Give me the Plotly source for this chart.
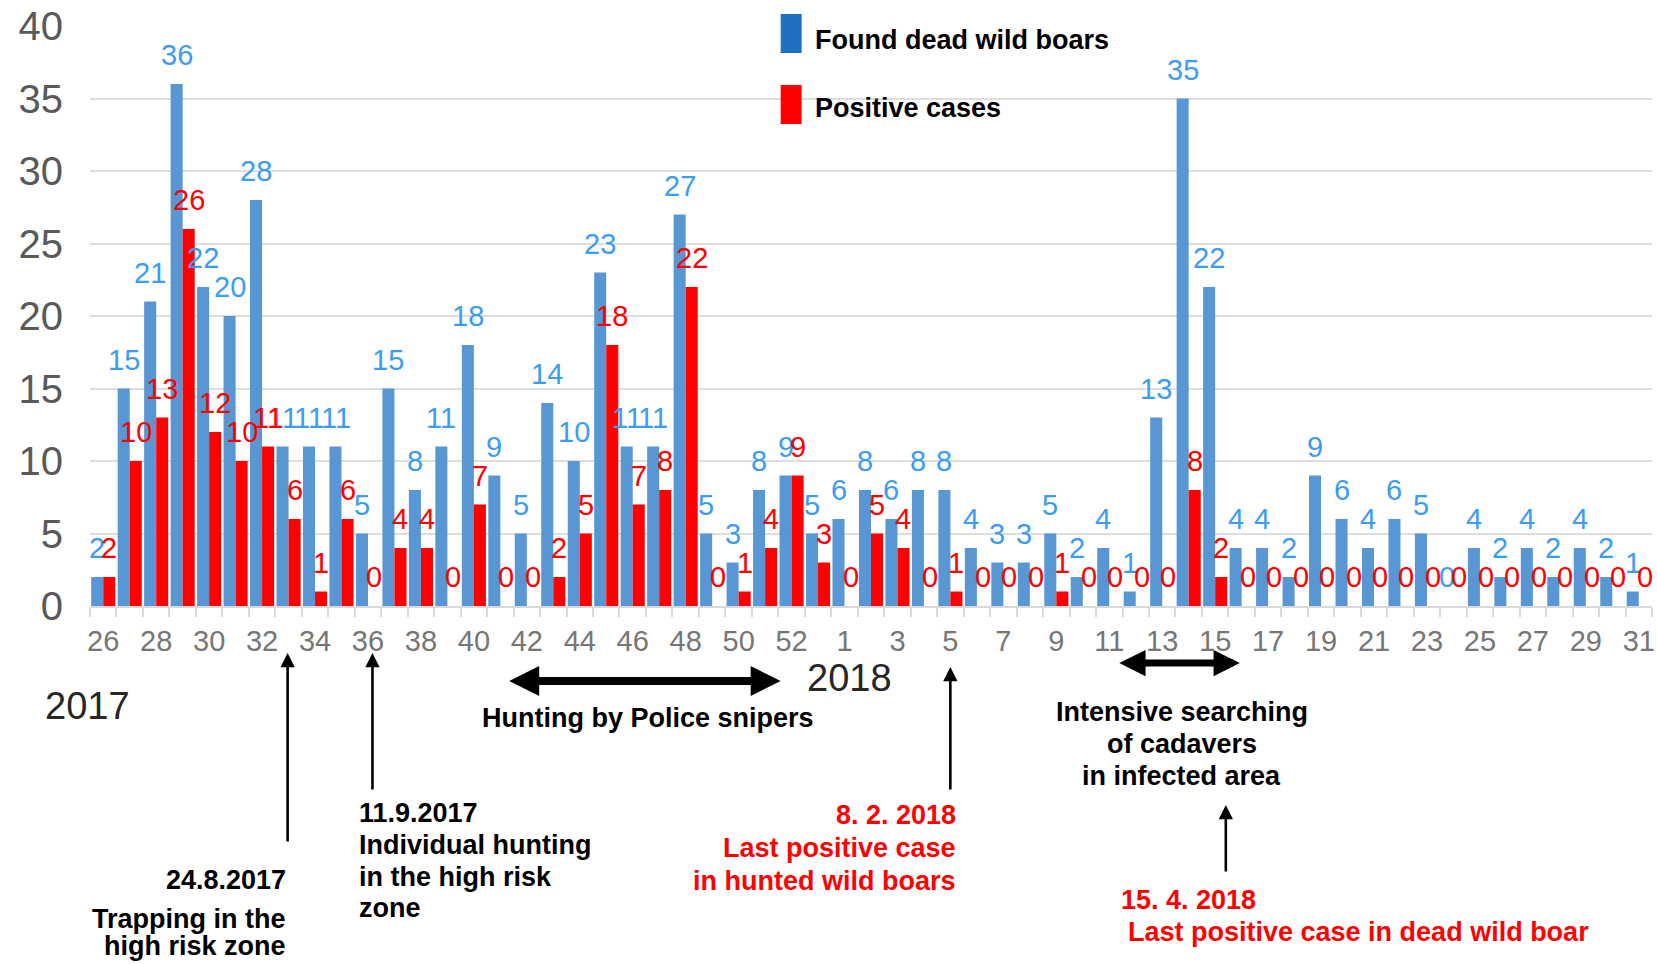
import plotly.graph_objects as go

# ---------------- data ----------------
weeks_2017 = list(range(26, 54))
weeks_2018 = list(range(1, 32))
found_2017 = [2, 15, 21, 36, 22, 20, 28, 11, 11, 11, 5, 15, 8, 11, 18, 9, 5, 14, 10, 23,
              11, 11, 27, 5, 3, 8, 9, 5]
positive_2017 = [2, 10, 13, 26, 12, 10, 11, 6, 1, 6, 0, 4, 4, 0, 7, 0, 0, 2, 5, 18,
                 7, 8, 22, 0, 1, 4, 9, 3]
found_2018 = [6, 8, 6, 8, 8, 4, 3, 3, 5, 2, 4, 1, 13, 35, 22, 4, 4, 2, 9, 6, 4, 6, 5, 0,
              4, 2, 4, 2, 4, 2, 1]
positive_2018 = [0, 5, 4, 0, 1, 0, 0, 0, 1, 0, 0, 0, 0, 8, 2, 0, 0, 0, 0, 0, 0, 0, 0, 0,
                 0, 0, 0, 0, 0, 0, 0]
series_names = ["Found dead wild boars", "Positive cases"]
y_ticks = [0, 5, 10, 15, 20, 25, 30, 35, 40]

categories = [f"2017/{w}" for w in weeks_2017] + [f"2018/{w}" for w in weeks_2018]
week_numbers = weeks_2017 + weeks_2018
found = found_2017 + found_2018
positive = positive_2017 + positive_2018
tick_text = [str(w) if i % 2 == 0 else "" for i, w in enumerate(week_numbers)]

# ---------------- style ----------------
W, H = 1657, 964
L, R, T, B = 90, 2, 26, 358
PW, PH = W - L - R, H - T - B
BLUE = "#5896d4"
RED = "#ff0000"
BLUE_TXT = "#3c9cf2"
FONT = "Liberation Sans, Arial, sans-serif"
BOLD_SIZE = 27


def px(x):
    return (x - L) / PW


def py(y):
    return (H - B - y) / PH


fig = go.Figure()
fig.add_trace(go.Bar(x=categories, y=found, name=series_names[0], marker_color=BLUE,
                     marker_line_width=0))
fig.add_trace(go.Bar(x=categories, y=positive, name=series_names[1], marker_color=RED,
                     marker_line_width=0))

annotations = []
# data labels
for c, v in zip(categories, found):
    annotations.append(dict(x=c, y=v, xref="x", yref="y", text=str(v), showarrow=False,
                            xshift=-6, yshift=11, yanchor="bottom", xanchor="center",
                            font=dict(family=FONT, size=29, color=BLUE_TXT)))
for c, v in zip(categories, positive):
    annotations.append(dict(x=c, y=v, xref="x", yref="y", text=str(v), showarrow=False,
                            xshift=6, yshift=11, yanchor="bottom", xanchor="center",
                            font=dict(family=FONT, size=29, color=RED)))


def txt(text, x, y, anchor="left", size=BOLD_SIZE, color="#000000", bold=True):
    annotations.append(dict(x=px(x), y=py(y), xref="paper", yref="paper", text=text,
                            showarrow=False, xanchor=anchor, yanchor="middle",
                            font=dict(family=FONT, size=size, color=color,
                                      weight="bold" if bold else "normal")))


def up_arrow(x, y_tip, y_tail):
    annotations.append(dict(x=px(x), y=py(y_tip), xref="paper", yref="paper", text="",
                            showarrow=True, ax=0, ay=y_tail - y_tip, arrowhead=2,
                            arrowsize=1.1, arrowwidth=2.6, arrowcolor="#000000"))


def double_arrow(x0, x1, y, width=8, size=0.75):
    annotations.append(dict(x=px(x1), y=py(y), xref="paper", yref="paper", text="",
                            showarrow=True, ax=x0 - x1, ay=0, arrowhead=2,
                            startarrowhead=2, arrowside="end+start", arrowsize=size,
                            startarrowsize=size, arrowwidth=width, arrowcolor="#000000"))


# legend (drawn manually)
txt(series_names[0], 814, 40)
txt(series_names[1], 814, 108)

# year labels
txt("2017", 87, 706, anchor="center", size=38, color="#262626", bold=False)
txt("2018", 851, 678, anchor="center", size=38, color="#262626", bold=False)

# arrows
double_arrow(509, 782, 681)
txt("Hunting by Police snipers", 649, 718, anchor="center")
double_arrow(1120, 1242, 663, width=7, size=0.75)
txt("Intensive searching", 1184, 712, anchor="center")
txt("of cadavers", 1184, 744, anchor="center")
txt("in infected area", 1184, 776, anchor="center")

up_arrow(288, 653, 843)
txt("24.8.2017", 288, 880, anchor="right")
txt("Trapping in the", 288, 919, anchor="right")
txt("high risk zone", 288, 946, anchor="right")

up_arrow(373, 653, 791)
txt("11.9.2017", 358, 813)
txt("Individual hunting", 358, 845)
txt("in the high risk", 358, 877)
txt("zone", 358, 908)

up_arrow(952, 667, 791)
txt("8. 2. 2018", 960, 815, anchor="right", color=RED)
txt("Last positive case", 960, 848, anchor="right", color=RED)
txt("in hunted wild boars", 960, 881, anchor="right", color=RED)

up_arrow(1228, 805, 873)
txt("15. 4. 2018", 1121, 900, color=RED)
txt("Last positive case in dead wild boar", 1128, 932, color=RED)

shapes = [
    dict(type="rect", xref="paper", yref="paper", x0=px(782), x1=px(803),
         y0=py(53), y1=py(14), fillcolor="#1f6fc5", line_width=0),
    dict(type="rect", xref="paper", yref="paper", x0=px(782), x1=px(803),
         y0=py(124), y1=py(85), fillcolor=RED, line_width=0),
]

fig.update_layout(
    width=W, height=H,
    margin=dict(l=L, r=R, t=T, b=B, pad=0),
    paper_bgcolor="white", plot_bgcolor="white",
    barmode="group", bargap=0.09, bargroupgap=0,
    showlegend=False,
    font=dict(family=FONT),
    annotations=annotations,
    shapes=shapes,
)
fig.update_xaxes(
    type="category", categoryorder="array", categoryarray=categories,
    tickmode="array", tickvals=categories, ticktext=tick_text, tickangle=0,
    tickson="boundaries", ticks="outside", ticklen=9, tickcolor="#d9d9d9", tickwidth=1.5,
    showline=True, linecolor="#d9d9d9", linewidth=1.5, showgrid=False,
    tickfont=dict(family=FONT, size=29, color="#767676"), ticklabelstandoff=8,
    range=[-0.5, len(categories) - 0.5],
)
fig.update_yaxes(
    range=[0, 40], tickvals=y_ticks, showgrid=True, gridcolor="#dedede", gridwidth=1.5,
    zeroline=False, showline=False, ticks="",
    tickfont=dict(family=FONT, size=40, color="#595959"), ticklabelstandoff=26,
)

fig.write_html("out.html", config={"displayModeBar": False},
               post_script="document.body.style.margin='0px';document.body.style.overflow='hidden';")
